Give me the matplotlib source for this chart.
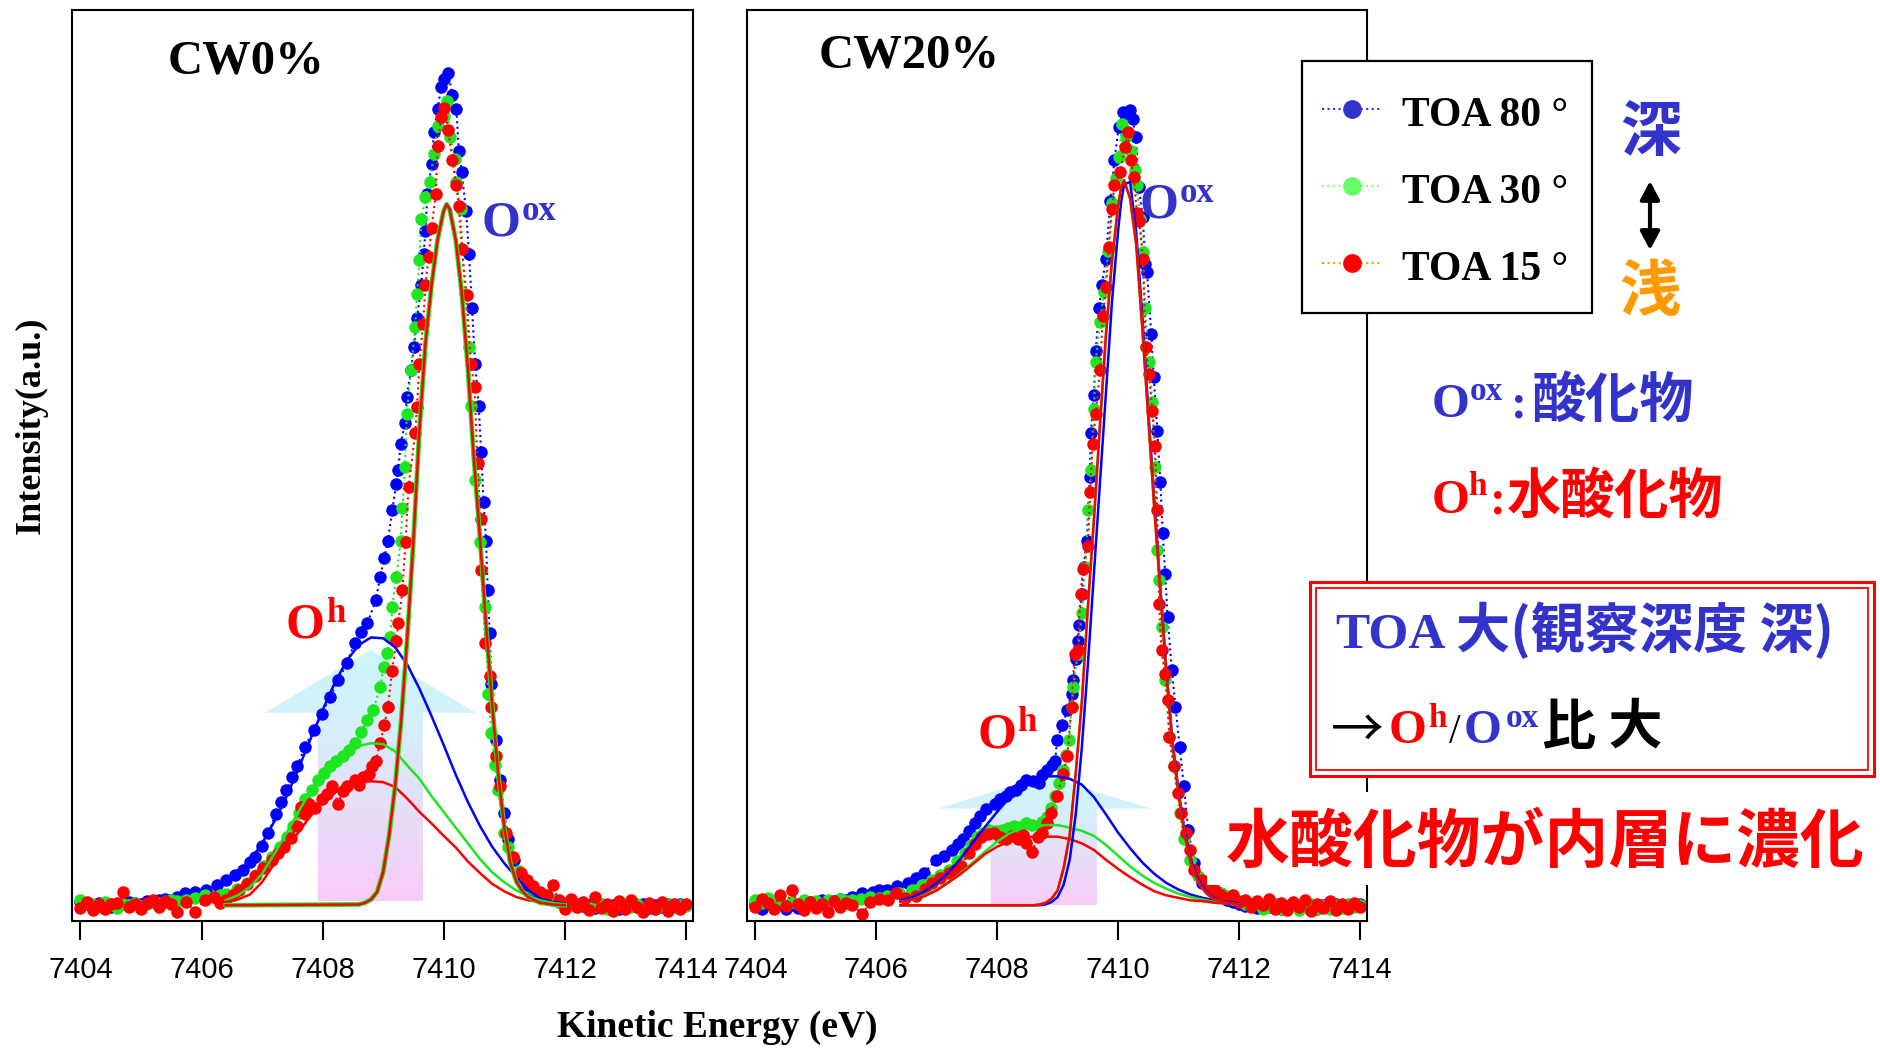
import numpy as np
import matplotlib
matplotlib.use('Agg')
import matplotlib.pyplot as plt
import matplotlib.transforms as mtransforms
from matplotlib.colors import LinearSegmentedColormap
from matplotlib.lines import Line2D
from matplotlib.patches import Polygon, Rectangle, FancyArrowPatch

plt.rcParams['font.family'] = ['Liberation Serif', 'Noto Sans CJK JP']

# ---------------- data (kinetic energy eV, normalised intensity) ----------------
base_left_e = np.round(np.arange(7404.0, 7405.65, 0.1), 2)    # 17 points
base_right_e = np.round(np.arange(7411.7, 7414.05, 0.1), 2)   # 24 points

# CW0%
cw0_toa80 = [(7405.73, 0.015), (7405.9, 0.016), (7406.07, 0.019), (7406.25, 0.024), (7406.41, 0.031),
             (7406.55, 0.037), (7406.68, 0.043), (7406.8, 0.052), (7406.89, 0.059), (7407.0, 0.072),
             (7407.1, 0.087), (7407.23, 0.111), (7407.32, 0.125), (7407.4, 0.14), (7407.5, 0.155),
             (7407.58, 0.168), (7407.71, 0.192), (7407.85, 0.212), (7407.99, 0.232), (7408.12, 0.252),
             (7408.26, 0.272), (7408.4, 0.293), (7408.53, 0.317), (7408.64, 0.33), (7408.74, 0.341),
             (7408.88, 0.369), (7408.95, 0.397), (7409.02, 0.42), (7409.08, 0.441), (7409.15, 0.478),
             (7409.22, 0.51), (7409.25, 0.526), (7409.29, 0.558), (7409.36, 0.583), (7409.39, 0.615),
             (7409.46, 0.647), (7409.51, 0.675), (7409.56, 0.71), (7409.63, 0.75), (7409.67, 0.788),
             (7409.7, 0.816), (7409.73, 0.86), (7409.8, 0.897), (7409.84, 0.935), (7409.9, 0.963),
             (7409.96, 0.99), (7410.01, 1.0), (7410.08, 1.007), (7410.14, 0.98), (7410.21, 0.963),
             (7410.25, 0.913), (7410.3, 0.887), (7410.37, 0.84), (7410.42, 0.788), (7410.47, 0.722),
             (7410.52, 0.655), (7410.58, 0.604), (7410.62, 0.548), (7410.66, 0.488), (7410.7, 0.441),
             (7410.73, 0.381), (7410.76, 0.329), (7410.79, 0.268), (7410.86, 0.2), (7410.93, 0.152),
             (7411.0, 0.112), (7411.07, 0.08), (7411.17, 0.055), (7411.27, 0.035), (7411.38, 0.025),
             (7411.48, 0.019), (7411.6, 0.012)]
cw0_toa80_base_l = [0.004, 0.002, -0.001, 0.003, 0.0, -0.002, 0.002, 0.001, 0.004, 0.003, 0.001,
                    0.005, 0.004, 0.006, 0.008, 0.007, 0.01]
cw0_toa80_base_r = [0.008, 0.006, 0.004, 0.003, 0.001, 0.002, -0.001, 0.0, -0.003, 0.001, -0.002, 0.0,
                    -0.004, -0.001, 0.002, -0.002, 0.001, -0.003, 0.0, -0.002, 0.002, -0.001, 0.001, 0.0]

cw0_toa30 = [(7405.75, 0.007), (7405.9, 0.009), (7406.05, 0.012), (7406.2, 0.01), (7406.3, 0.013),
             (7406.41, 0.014), (7406.58, 0.02), (7406.75, 0.027), (7406.9, 0.037), (7407.03, 0.047),
             (7407.17, 0.058), (7407.3, 0.071), (7407.41, 0.083), (7407.51, 0.096), (7407.61, 0.112),
             (7407.71, 0.128), (7407.82, 0.14), (7407.92, 0.152), (7408.02, 0.16), (7408.12, 0.168),
             (7408.22, 0.174), (7408.33, 0.18), (7408.43, 0.188), (7408.53, 0.196), (7408.64, 0.21),
             (7408.74, 0.224), (7408.84, 0.236), (7408.95, 0.264), (7409.01, 0.288), (7409.07, 0.305),
             (7409.12, 0.325), (7409.15, 0.361), (7409.22, 0.397), (7409.29, 0.441), (7409.32, 0.48),
             (7409.36, 0.53), (7409.39, 0.594), (7409.46, 0.647), (7409.53, 0.7), (7409.56, 0.74),
             (7409.6, 0.78), (7409.63, 0.83), (7409.7, 0.857), (7409.77, 0.875), (7409.84, 0.909),
             (7409.9, 0.943), (7410.01, 0.955), (7410.06, 0.973), (7410.11, 0.929), (7410.18, 0.903),
             (7410.21, 0.875), (7410.28, 0.842), (7410.35, 0.74), (7410.42, 0.675), (7410.45, 0.604),
             (7410.52, 0.514), (7410.6, 0.44), (7410.69, 0.361), (7410.73, 0.256), (7410.79, 0.209),
             (7410.85, 0.17), (7410.9, 0.139), (7411.0, 0.087), (7411.07, 0.07), (7411.14, 0.059),
             (7411.24, 0.042), (7411.34, 0.03), (7411.48, 0.02), (7411.62, 0.014)]
cw0_toa30_base_l = [0.006, 0.003, 0.001, -0.002, 0.004, 0.001, -0.003, 0.002, 0.0, 0.003, -0.001,
                    0.002, 0.005, 0.003, 0.004, 0.006, 0.005]
cw0_toa30_base_r = [0.01, 0.007, 0.004, 0.003, 0.0, -0.002, 0.001, -0.003, -0.001, 0.002, -0.004, -0.002,
                    0.0, -0.005, -0.002, 0.001, -0.003, 0.0, -0.004, -0.001, 0.001, -0.002, 0.0, -0.001]

cw0_toa15 = [(7405.75, 0.004), (7405.9, -0.008), (7406.05, 0.006), (7406.2, 0.01), (7406.3, 0.003),
             (7406.41, 0.007), (7406.52, 0.013), (7406.62, 0.019), (7406.75, 0.026), (7406.89, 0.035),
             (7407.02, 0.045), (7407.16, 0.055), (7407.27, 0.063), (7407.37, 0.071), (7407.47, 0.082),
             (7407.58, 0.096), (7407.64, 0.119), (7407.71, 0.11), (7407.78, 0.123), (7407.88, 0.118),
             (7407.99, 0.128), (7408.08, 0.135), (7408.16, 0.144), (7408.26, 0.123), (7408.33, 0.138),
             (7408.4, 0.144), (7408.53, 0.152), (7408.6, 0.146), (7408.67, 0.155), (7408.77, 0.159),
             (7408.82, 0.168), (7408.88, 0.175), (7408.95, 0.196), (7409.02, 0.218), (7409.08, 0.24),
             (7409.15, 0.284), (7409.22, 0.32), (7409.25, 0.341), (7409.32, 0.381), (7409.37, 0.44),
             (7409.42, 0.506), (7409.53, 0.571), (7409.56, 0.603), (7409.6, 0.655), (7409.66, 0.703),
             (7409.7, 0.75), (7409.75, 0.784), (7409.8, 0.819), (7409.87, 0.86), (7409.9, 0.919),
             (7409.96, 0.954), (7410.01, 0.965), (7410.08, 0.938), (7410.14, 0.901), (7410.21, 0.871),
             (7410.25, 0.846), (7410.3, 0.794), (7410.38, 0.738), (7410.45, 0.655), (7410.51, 0.627),
             (7410.56, 0.535), (7410.61, 0.467), (7410.62, 0.405), (7410.69, 0.317), (7410.76, 0.277),
             (7410.79, 0.24), (7410.86, 0.18), (7410.93, 0.144), (7411.03, 0.087), (7411.14, 0.059),
             (7411.27, 0.039), (7411.38, 0.03), (7411.48, 0.023), (7411.6, 0.016)]
cw0_toa15_base_l = [-0.003, 0.004, -0.006, 0.002, -0.004, 0.001, 0.003, 0.016, -0.002, 0.001, -0.005,
                    0.003, 0.006, -0.002, 0.005, 0.001, -0.008]
cw0_toa15_base_r = [0.012, 0.024, 0.006, -0.004, 0.008, -0.002, 0.004, -0.006, 0.01, -0.003, 0.002, -0.007,
                    0.005, -0.004, 0.006, -0.002, -0.008, 0.003, -0.005, 0.004, -0.007, 0.002, -0.004, 0.001]

# CW20%
cw20_toa80 = [(7405.77, 0.015), (7405.95, 0.016), (7406.05, 0.018), (7406.18, 0.019), (7406.35, 0.023),
              (7406.52, 0.027), (7406.65, 0.033), (7406.79, 0.039), (7406.99, 0.055), (7407.12, 0.06),
              (7407.26, 0.067), (7407.35, 0.074), (7407.43, 0.08), (7407.53, 0.09), (7407.64, 0.099),
              (7407.72, 0.108), (7407.81, 0.116), (7407.97, 0.123), (7408.05, 0.128), (7408.14, 0.132),
              (7408.22, 0.137), (7408.31, 0.14), (7408.4, 0.146), (7408.48, 0.152), (7408.6, 0.15),
              (7408.69, 0.148), (7408.75, 0.158), (7408.82, 0.164), (7408.9, 0.17), (7408.96, 0.174),
              (7408.99, 0.2), (7409.08, 0.218), (7409.16, 0.236), (7409.23, 0.256), (7409.26, 0.272),
              (7409.3, 0.298), (7409.33, 0.32), (7409.36, 0.339), (7409.4, 0.377), (7409.43, 0.409),
              (7409.48, 0.441), (7409.53, 0.518), (7409.55, 0.571), (7409.6, 0.617), (7409.63, 0.671),
              (7409.69, 0.723), (7409.73, 0.75), (7409.8, 0.782), (7409.87, 0.852), (7409.94, 0.901),
              (7410.01, 0.941), (7410.09, 0.96), (7410.14, 0.957), (7410.19, 0.962), (7410.24, 0.951),
              (7410.3, 0.929), (7410.34, 0.869), (7410.41, 0.832), (7410.45, 0.776), (7410.48, 0.766),
              (7410.55, 0.691), (7410.59, 0.639), (7410.65, 0.574), (7410.7, 0.512), (7410.74, 0.45),
              (7410.78, 0.401), (7410.82, 0.349), (7410.89, 0.285), (7410.95, 0.24), (7411.02, 0.192),
              (7411.09, 0.144), (7411.16, 0.091), (7411.26, 0.051), (7411.39, 0.027), (7411.5, 0.02),
              (7411.6, 0.015)]
cw20_toa80_base_l = [0.002, -0.004, 0.001, -0.002, 0.003, -0.005, 0.0, -0.003, 0.002, 0.004, 0.001,
                     0.006, 0.003, 0.005, 0.008, 0.007, 0.01]
cw20_toa80_base_r = [0.01, 0.007, 0.004, 0.002, -0.001, 0.001, -0.003, 0.0, -0.002, 0.002, -0.004, -0.001,
                     0.001, -0.003, 0.0, -0.002, -0.005, 0.0, -0.003, 0.001, -0.002, 0.0, -0.001, 0.002]

cw20_toa30 = [(7405.75, 0.008), (7405.9, 0.01), (7406.05, 0.009), (7406.18, 0.011), (7406.38, 0.015),
              (7406.59, 0.019), (7406.75, 0.025), (7406.92, 0.031), (7407.06, 0.037), (7407.2, 0.043),
              (7407.33, 0.053), (7407.47, 0.063), (7407.57, 0.073), (7407.67, 0.083), (7407.77, 0.088),
              (7407.87, 0.091), (7407.98, 0.09), (7408.08, 0.091), (7408.18, 0.094), (7408.28, 0.096),
              (7408.38, 0.095), (7408.48, 0.099), (7408.58, 0.097), (7408.69, 0.096), (7408.75, 0.101),
              (7408.82, 0.107), (7408.89, 0.118), (7408.96, 0.132), (7409.03, 0.148), (7409.09, 0.164),
              (7409.14, 0.182), (7409.19, 0.2), (7409.23, 0.24), (7409.26, 0.264), (7409.33, 0.304),
              (7409.4, 0.353), (7409.46, 0.409), (7409.51, 0.478), (7409.55, 0.526), (7409.6, 0.6),
              (7409.63, 0.657), (7409.7, 0.705), (7409.77, 0.742), (7409.84, 0.792), (7409.9, 0.85),
              (7409.96, 0.88), (7410.01, 0.905), (7410.07, 0.945), (7410.14, 0.929), (7410.21, 0.913),
              (7410.28, 0.889), (7410.31, 0.871), (7410.36, 0.83), (7410.41, 0.79), (7410.45, 0.723),
              (7410.51, 0.657), (7410.57, 0.609), (7410.61, 0.53), (7410.65, 0.43), (7410.68, 0.393),
              (7410.72, 0.337), (7410.78, 0.272), (7410.85, 0.204), (7410.92, 0.168), (7411.02, 0.112),
              (7411.09, 0.08), (7411.19, 0.055), (7411.33, 0.035), (7411.45, 0.027), (7411.58, 0.02)]
cw20_toa30_base_l = [0.006, 0.003, 0.009, 0.002, 0.005, 0.0, 0.004, 0.002, 0.007, 0.003, 0.005,
                     0.001, 0.006, 0.004, 0.008, 0.005, 0.007]
cw20_toa30_base_r = [0.015, 0.011, 0.008, 0.005, 0.002, -0.001, 0.003, -0.004, -0.002, 0.001, -0.005, -0.003,
                     0.0, -0.006, -0.002, 0.001, -0.004, -0.001, -0.005, 0.0, -0.003, 0.002, -0.002, 0.0]

cw20_toa15 = [(7405.77, -0.01), (7405.9, 0.004), (7406.05, 0.008), (7406.2, 0.006), (7406.32, 0.015),
              (7406.48, 0.009), (7406.65, 0.011), (7406.8, 0.02), (7406.92, 0.027), (7407.06, 0.033),
              (7407.2, 0.039), (7407.3, 0.043), (7407.4, 0.047), (7407.53, 0.063), (7407.64, 0.074),
              (7407.74, 0.083), (7407.84, 0.086), (7407.94, 0.087), (7408.04, 0.083), (7408.14, 0.08),
              (7408.25, 0.084), (7408.35, 0.08), (7408.42, 0.085), (7408.48, 0.075), (7408.58, 0.065),
              (7408.67, 0.083), (7408.75, 0.087), (7408.82, 0.1), (7408.89, 0.112), (7408.99, 0.132),
              (7409.09, 0.159), (7409.16, 0.18), (7409.23, 0.24), (7409.28, 0.304), (7409.33, 0.309),
              (7409.38, 0.377), (7409.42, 0.407), (7409.5, 0.435), (7409.54, 0.5), (7409.58, 0.558),
              (7409.63, 0.594), (7409.7, 0.647), (7409.75, 0.713), (7409.8, 0.748), (7409.85, 0.796),
              (7409.9, 0.842), (7409.94, 0.871), (7410.04, 0.887), (7410.11, 0.917), (7410.16, 0.935),
              (7410.21, 0.901), (7410.26, 0.881), (7410.31, 0.838), (7410.35, 0.828), (7410.41, 0.782),
              (7410.46, 0.675), (7410.51, 0.643), (7410.57, 0.598), (7410.61, 0.556), (7410.65, 0.478),
              (7410.68, 0.365), (7410.72, 0.309), (7410.77, 0.28), (7410.82, 0.248), (7410.85, 0.204),
              (7410.92, 0.168), (7410.99, 0.136), (7411.05, 0.112), (7411.12, 0.087), (7411.19, 0.067),
              (7411.26, 0.043), (7411.39, 0.03), (7411.5, 0.022), (7411.6, 0.019)]
cw20_toa15_base_l = [-0.002, 0.008, 0.003, -0.004, 0.012, -0.001, 0.019, 0.002, -0.006, 0.004, -0.003,
                     0.001, -0.008, 0.005, -0.002, 0.003, 0.0]
cw20_toa15_base_r = [0.013, 0.009, 0.012, 0.004, 0.007, -0.002, 0.005, 0.0, 0.008, -0.004, 0.003, -0.006,
                     0.004, -0.002, 0.006, -0.007, 0.002, -0.003, 0.005, -0.006, 0.001, -0.004, 0.003, -0.002]

# fitted components
oh_e = np.round(np.arange(7406.4, 7412.01, 0.2), 1)   # 29 points
cw0_oh80 = [0.026, 0.038, 0.054, 0.075, 0.101, 0.131, 0.165, 0.201, 0.236, 0.269, 0.296, 0.315, 0.324, 0.323,
            0.312, 0.291, 0.262, 0.229, 0.194, 0.158, 0.125, 0.096, 0.071, 0.051, 0.034, 0.018, 0.008, 0.004, 0.002]
cw0_oh30 = [0.006, 0.012, 0.022, 0.038, 0.062, 0.087, 0.113, 0.138, 0.158, 0.174, 0.186, 0.193, 0.196, 0.195,
            0.186, 0.169, 0.153, 0.132, 0.113, 0.094, 0.075, 0.056, 0.04, 0.028, 0.018, 0.011, 0.006, 0.003, 0.001]
cw0_oh15 = [0.004, 0.007, 0.013, 0.028, 0.05, 0.068, 0.088, 0.108, 0.124, 0.136, 0.145, 0.149, 0.15, 0.149,
            0.143, 0.129, 0.113, 0.099, 0.084, 0.07, 0.053, 0.039, 0.026, 0.017, 0.01, 0.006, 0.004, 0.002, 0.001]
cw20_oh80 = [0.006, 0.01, 0.017, 0.027, 0.04, 0.057, 0.076, 0.095, 0.113, 0.13, 0.143, 0.152, 0.156, 0.156,
             0.153, 0.146, 0.131, 0.11, 0.088, 0.069, 0.052, 0.038, 0.027, 0.019, 0.013, 0.009, 0.006, 0.004, 0.002]
cw20_oh30 = [0.004, 0.007, 0.012, 0.019, 0.028, 0.039, 0.052, 0.065, 0.077, 0.087, 0.093, 0.096, 0.097, 0.097,
             0.094, 0.09, 0.084, 0.073, 0.06, 0.047, 0.036, 0.027, 0.02, 0.014, 0.01, 0.007, 0.004, 0.002, 0.001]
cw20_oh15 = [0.004, 0.007, 0.011, 0.018, 0.028, 0.038, 0.05, 0.062, 0.071, 0.077, 0.081, 0.083, 0.083, 0.083,
             0.08, 0.075, 0.067, 0.055, 0.044, 0.034, 0.025, 0.017, 0.012, 0.009, 0.006, 0.005, 0.003, 0.002, 0.001]

oox_e = [7406.4, 7408.6, 7408.7, 7408.8, 7408.9, 7409.0, 7409.1, 7409.2, 7409.3, 7409.4, 7409.5, 7409.6,
         7409.7, 7409.8, 7409.9, 7410.0, 7410.05, 7410.1, 7410.2, 7410.3, 7410.4, 7410.5, 7410.6, 7410.7,
         7410.8, 7410.9, 7411.0, 7411.1, 7411.2, 7411.3, 7411.4, 7411.5, 7411.6, 7411.8, 7412.0]
cw0_oox = [0.0, 0.001, 0.003, 0.007, 0.016, 0.04, 0.085, 0.145, 0.225, 0.325, 0.44, 0.575, 0.68, 0.75, 0.805,
           0.84, 0.848, 0.842, 0.805, 0.74, 0.65, 0.54, 0.445, 0.34, 0.245, 0.16, 0.095, 0.052, 0.029, 0.017,
           0.01, 0.006, 0.003, 0.001, 0.0]
cw20_oox80 = [0.0, 0.0, 0.0, 0.001, 0.004, 0.01, 0.025, 0.055, 0.11, 0.19, 0.29, 0.4, 0.51, 0.62, 0.73, 0.815,
              0.85, 0.872, 0.875, 0.815, 0.715, 0.6, 0.49, 0.385, 0.285, 0.2, 0.14, 0.09, 0.056, 0.035, 0.022,
              0.013, 0.008, 0.003, 0.001]
cw20_oox15 = [0.0, 0.0, 0.001, 0.003, 0.008, 0.018, 0.045, 0.085, 0.16, 0.245, 0.36, 0.465, 0.58, 0.69, 0.78,
              0.845, 0.868, 0.877, 0.855, 0.8, 0.7, 0.59, 0.48, 0.38, 0.28, 0.195, 0.135, 0.085, 0.052, 0.032,
              0.02, 0.012, 0.007, 0.003, 0.001]

ticks = [7404, 7406, 7408, 7410, 7412, 7414]
legend_labels = ['TOA 80 °', 'TOA 30 °', 'TOA 15 °']

# ---------------- styles ----------------
W, H = 1880, 1048
BLUE, GREEN, RED = '#0000FF', '#1EE61E', '#FF0000'
TXT_BLUE = '#3333CC'
SERIF = 'Liberation Serif'
CJK = 'Noto Sans CJK JP'

fig = plt.figure(figsize=(W / 100, H / 100), dpi=100)
fig.patch.set_facecolor('white')
# pixel coordinates measured from the top-left corner of the figure
px = mtransforms.Affine2D().scale(1 / W, -1 / H).translate(0, 1) + fig.transFigure

ax_l = fig.add_axes([72 / W, 1 - 921 / H, 621 / W, 911 / H])
ax_r = fig.add_axes([747 / W, 1 - 921 / H, 620 / W, 911 / H])


def big_arrow(ax, shaft, head, y_base, y_neck, y_tip):
    xm = (head[0] + head[1]) / 2
    verts = [(shaft[0], y_base), (shaft[0], y_neck), (head[0], y_neck), (xm, y_tip),
             (head[1], y_neck), (shaft[1], y_neck), (shaft[1], y_base)]
    poly = Polygon(verts, closed=True, fc='none', ec='none')
    ax.add_patch(poly)
    f = (y_neck - y_base) / (y_tip - y_base)
    cmap = LinearSegmentedColormap.from_list('arw', [(0, '#F9CCF7'), (f, '#D3F1FB'), (1, '#CCF6FB')])
    grad = np.linspace(0, 1, 256).reshape(-1, 1)
    im = ax.imshow(grad, extent=[head[0], head[1], y_base, y_tip], origin='lower', cmap=cmap,
                   aspect='auto', interpolation='bilinear', zorder=0.5)
    im.set_clip_path(poly)


def spectrum(ax, pts, base_l, base_r, color, z):
    e = list(base_left_e) + [p[0] for p in pts] + list(base_right_e)
    i = list(base_l) + [p[1] for p in pts] + list(base_r)
    ax.plot(e, i, ls=':', lw=1.5, color=color, marker='o', ms=9, mec='none', zorder=z)


def style_axes(ax):
    ax.set_xlim(7403.86, 7414.12)
    ax.set_ylim(-0.019, 1.083)
    ax.set_xticks(ticks)
    ax.set_yticks([])
    ax.tick_params(axis='x', direction='out', length=13.5, width=1.5, pad=12, labelsize=21)
    for lab in ax.get_xticklabels():
        lab.set_fontfamily('Liberation Sans')
    for s in ax.spines.values():
        s.set_linewidth(1.5)


# left panel: CW0%
big_arrow(ax_l, (7407.92, 7409.66), (7407.05, 7410.53), 0.005, 0.233, 0.309)
spectrum(ax_l, cw0_toa80, cw0_toa80_base_l, cw0_toa80_base_r, BLUE, 2.0)
spectrum(ax_l, cw0_toa30, cw0_toa30_base_l, cw0_toa30_base_r, GREEN, 2.1)
spectrum(ax_l, cw0_toa15, cw0_toa15_base_l, cw0_toa15_base_r, RED, 2.2)
ax_l.plot(oh_e, cw0_oh80, color=BLUE, lw=1.8, zorder=3)
ax_l.plot(oh_e, cw0_oh30, color=GREEN, lw=1.8, zorder=3)
ax_l.plot(oh_e, cw0_oh15, color=RED, lw=1.8, zorder=3)
ax_l.plot(oox_e, cw0_oox, color=BLUE, lw=1.8, zorder=3)
ax_l.plot(oox_e, cw0_oox, color=GREEN, lw=3.4, zorder=3.1)
ax_l.plot(oox_e, cw0_oox, color=RED, lw=1.8, zorder=3.2)
style_axes(ax_l)

# right panel: CW20%
big_arrow(ax_r, (7407.89, 7409.65), (7407.03, 7410.53), 0.0, 0.117, 0.157)
spectrum(ax_r, cw20_toa80, cw20_toa80_base_l, cw20_toa80_base_r, BLUE, 2.0)
spectrum(ax_r, cw20_toa30, cw20_toa30_base_l, cw20_toa30_base_r, GREEN, 2.1)
spectrum(ax_r, cw20_toa15, cw20_toa15_base_l, cw20_toa15_base_r, RED, 2.2)
ax_r.plot(oh_e, cw20_oh80, color=BLUE, lw=1.8, zorder=3)
ax_r.plot(oh_e, cw20_oh30, color=GREEN, lw=1.8, zorder=3)
ax_r.plot(oh_e, cw20_oh15, color=RED, lw=1.8, zorder=3)
ax_r.plot(oox_e, cw20_oox80, color=BLUE, lw=1.8, zorder=3)
ax_r.plot(oox_e, cw20_oox15, color=GREEN, lw=1.8, zorder=3.1)
ax_r.plot(oox_e, cw20_oox15, color=RED, lw=1.8, zorder=3.2)
style_axes(ax_r)


def ptext(x, y, s, size, color='black', family=SERIF, weight='bold', z=6, **kw):
    return fig.text(x, y, s, transform=px, fontsize=size, color=color, family=family,
                    fontweight=weight, va='baseline', zorder=z, **kw)


# panel titles and peak labels
ptext(168, 74, 'CW0%', 35)
ptext(819, 68, 'CW20%', 35)
for (ox, oy, sup, col) in [(482, 236, 'ox', TXT_BLUE), (286, 638, 'h', RED),
                           (1140, 218, 'ox', TXT_BLUE), (977, 747, 'h', RED)]:
    ptext(ox, oy, 'O', 36, col)
    ptext(ox + 40, oy - 16, sup, 25, col)

# axis labels
ptext(717, 1037, 'Kinetic Energy (eV)', 27, ha='center')
fig.text(31, 425, 'Intensity(a.u.)', transform=px, fontsize=26, family=SERIF, fontweight='bold',
         rotation=90, ha='center', va='center')

# legend
fig.add_artist(Rectangle((1302, 61), 290, 252, transform=px, fc='white', ec='black', lw=1.6, zorder=5))
leg_line = [TXT_BLUE, '#99FF66', '#FF9900']
leg_mark = [TXT_BLUE, '#66FF66', '#FF0000']
for k, (lab, lc, mc) in enumerate(zip(legend_labels, leg_line, leg_mark)):
    yc = 109 + k * 77
    fig.add_artist(Line2D([1322, 1380], [yc, yc], transform=px, ls=':', lw=1.5, color=lc, zorder=6))
    fig.add_artist(Line2D([1352], [yc], transform=px, marker='o', ms=13.5, mfc=mc, mec='none', zorder=6))
    ptext(1402, yc + 17, lab, 30)

ptext(1651, 151, '深', 44, TXT_BLUE, CJK, ha='center')
ptext(1650, 311, '浅', 44, '#FF9900', CJK, ha='center')
fig.add_artist(FancyArrowPatch((1650, 181), (1650, 250), transform=px,
                               arrowstyle='<|-|>,head_length=0.85,head_width=0.45',
                               mutation_scale=13, lw=3.0, color='black',
                               shrinkA=0, shrinkB=0, zorder=6))

# species definitions
ptext(1432, 417, 'O', 35, TXT_BLUE)
ptext(1470, 400, 'ox', 24, TXT_BLUE)
ptext(1512, 417, ':', 30, TXT_BLUE, CJK)
ptext(1532, 417, '酸化物', 39, TXT_BLUE, CJK)
ptext(1432, 513, 'O', 35, RED)
ptext(1468, 495, 'h', 24, RED)
ptext(1491, 513, ':', 30, RED, CJK)
ptext(1507, 513, '水酸化物', 39, RED, CJK)

# red double box
fig.add_artist(Rectangle((1310, 582), 564, 194, transform=px, fc='white', ec=RED, lw=2.2, zorder=5))
fig.add_artist(Rectangle((1316, 588), 552, 182, transform=px, fc='none', ec=RED, lw=1.3, zorder=5))
ptext(1335, 647, 'TOA', 37, TXT_BLUE)
ptext(1456, 648, '大(観察深度 深)', 39, TXT_BLUE, CJK)
ptext(1331, 747, '→', 38, 'black', CJK, weight='normal')
ptext(1389, 743, 'O', 35, RED)
ptext(1428, 727, 'h', 24, RED)
ptext(1449, 743, '/', 30, 'black', weight='normal')
ptext(1464, 743, 'O', 35, TXT_BLUE)
ptext(1506, 727, 'ox', 24, TXT_BLUE)
ptext(1542, 744, '比 大', 39, 'black', CJK)

# conclusion
fig.add_artist(Rectangle((1207, 792), 673, 93, transform=px, fc='white', ec='none', zorder=4))
ptext(1226, 862, '水酸化物が内層に濃化', 46, RED, CJK)

fig.savefig('out.png', dpi=100, facecolor='white')
